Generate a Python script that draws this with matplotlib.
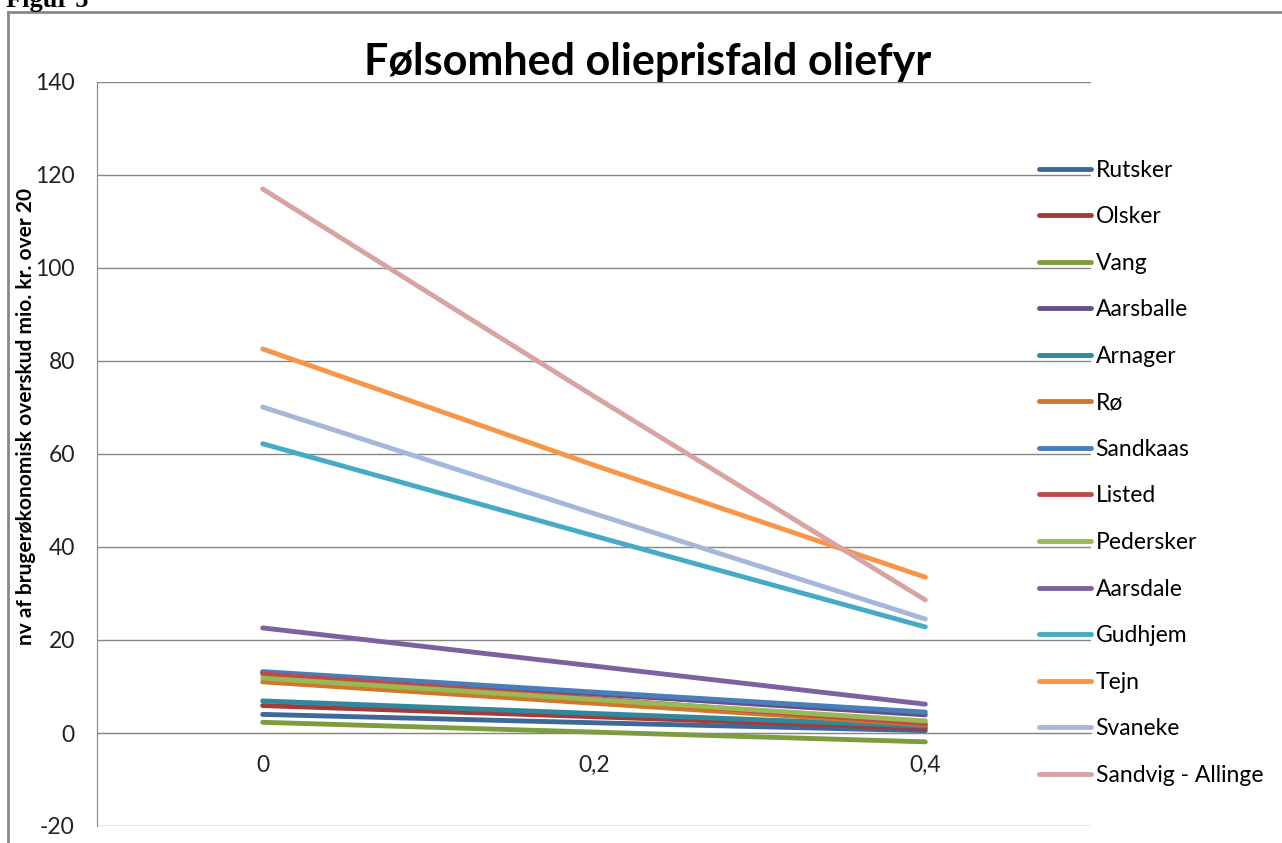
import matplotlib
matplotlib.use("Agg")
import matplotlib.pyplot as plt
from matplotlib.lines import Line2D

plt.rcParams['font.family'] = ['Lato', 'DejaVu Sans']
plt.rcParams['axes.unicode_minus'] = False

x = [0, 0.2, 0.4]
navne = ['Rutsker', 'Olsker', 'Vang', 'Aarsballe', 'Arnager', 'Rø', 'Sandkaas',
         'Listed', 'Pedersker', 'Aarsdale', 'Gudhjem', 'Tejn', 'Svaneke',
         'Sandvig - Allinge']
rutsker = [4.0, 2.2, 0.5]
olsker = [5.9, 3.5, 1.0]
vang = [2.3, 0.2, -1.9]
aarsballe = [13.0, 8.4, 3.9]
arnager = [6.9, 4.2, 1.5]
roe = [11.0, 6.4, 1.8]
sandkaas = [13.2, 8.8, 4.5]
listed = [12.7, 7.4, 2.0]
pedersker = [11.8, 7.2, 2.6]
aarsdale = [22.6, 14.4, 6.2]
gudhjem = [62.2, 42.4, 22.8]
tejn = [82.6, 57.6, 33.5]
svaneke = [70.1, 47.2, 24.5]
sandvig = [117.0, 72.4, 28.6]
serier = [rutsker, olsker, vang, aarsballe, arnager, roe, sandkaas, listed,
          pedersker, aarsdale, gudhjem, tejn, svaneke, sandvig]
farver = ['#3C6997', '#A33B38', '#7E9D3F', '#674F8A', '#31879E', '#D0772C',
          '#4A7EBB', '#BE4B48', '#98B954', '#7D60A0', '#46AAC5', '#F79646',
          '#A5B8D9', '#D9A3A1']

W, H = 1282, 843
fig = plt.figure(figsize=(W / 100, H / 100), dpi=100)
ax = fig.add_axes([97 / W, 1 - 826 / H, (1091 - 97) / W, (826 - 82) / H])

for navn, y, f in zip(navne, serier, farver):
    ax.plot(x, y, color=f, lw=3.5, label=navn, solid_capstyle='round')

ax.set_xlim(-0.1, 0.5)
ax.set_ylim(-20, 140)
ax.set_yticks(range(-20, 141, 20))
ax.set_xticks([0, 0.2, 0.4])
ax.set_xticklabels(['0', '0,2', '0,4'])
ax.yaxis.grid(True, color='#868686', lw=1)
ax.set_axisbelow(True)
for s in ['top', 'right']:
    ax.spines[s].set_visible(False)
ax.spines['left'].set_color('#868686')
ax.spines['bottom'].set_color('#868686')
ax.spines['bottom'].set_position(('data', 0))
ax.tick_params(axis='both', length=0, labelsize=16.5, colors='#222222')
ax.tick_params(axis='y', pad=16)
ax.tick_params(axis='x', pad=16)

ax.set_ylabel('nv af brugerøkonomisk overskud mio. kr. over 20',
              fontsize=15, fontweight='bold')
ax.yaxis.set_label_coords(-0.061, 0.55)

fig.text(648 / W, 1 - 62 / H, 'Følsomhed olieprisfald oliefyr',
         ha='center', va='center', fontsize=31, fontweight='bold')

ax.legend(loc='upper left', bbox_to_anchor=(1018 / W, 1 - 139 / H),
          bbox_transform=fig.transFigure, frameon=False, fontsize=16.5,
          handlelength=2.27, handletextpad=0.22, labelspacing=1.115)

# ramme og figurtekst
fig.add_artist(Line2D([8 / W, 8 / W], [0, 1 - 12 / H], color='#888888', lw=2))
fig.add_artist(Line2D([8 / W, 1], [1 - 12 / H, 1 - 12 / H], color='#888888', lw=2))
fig.text(6 / W, 1 - 7 / H, 'Figur 5', family='Liberation Serif',
         fontweight='bold', fontsize=19, va='baseline')

fig.savefig('out.png', dpi=100)
